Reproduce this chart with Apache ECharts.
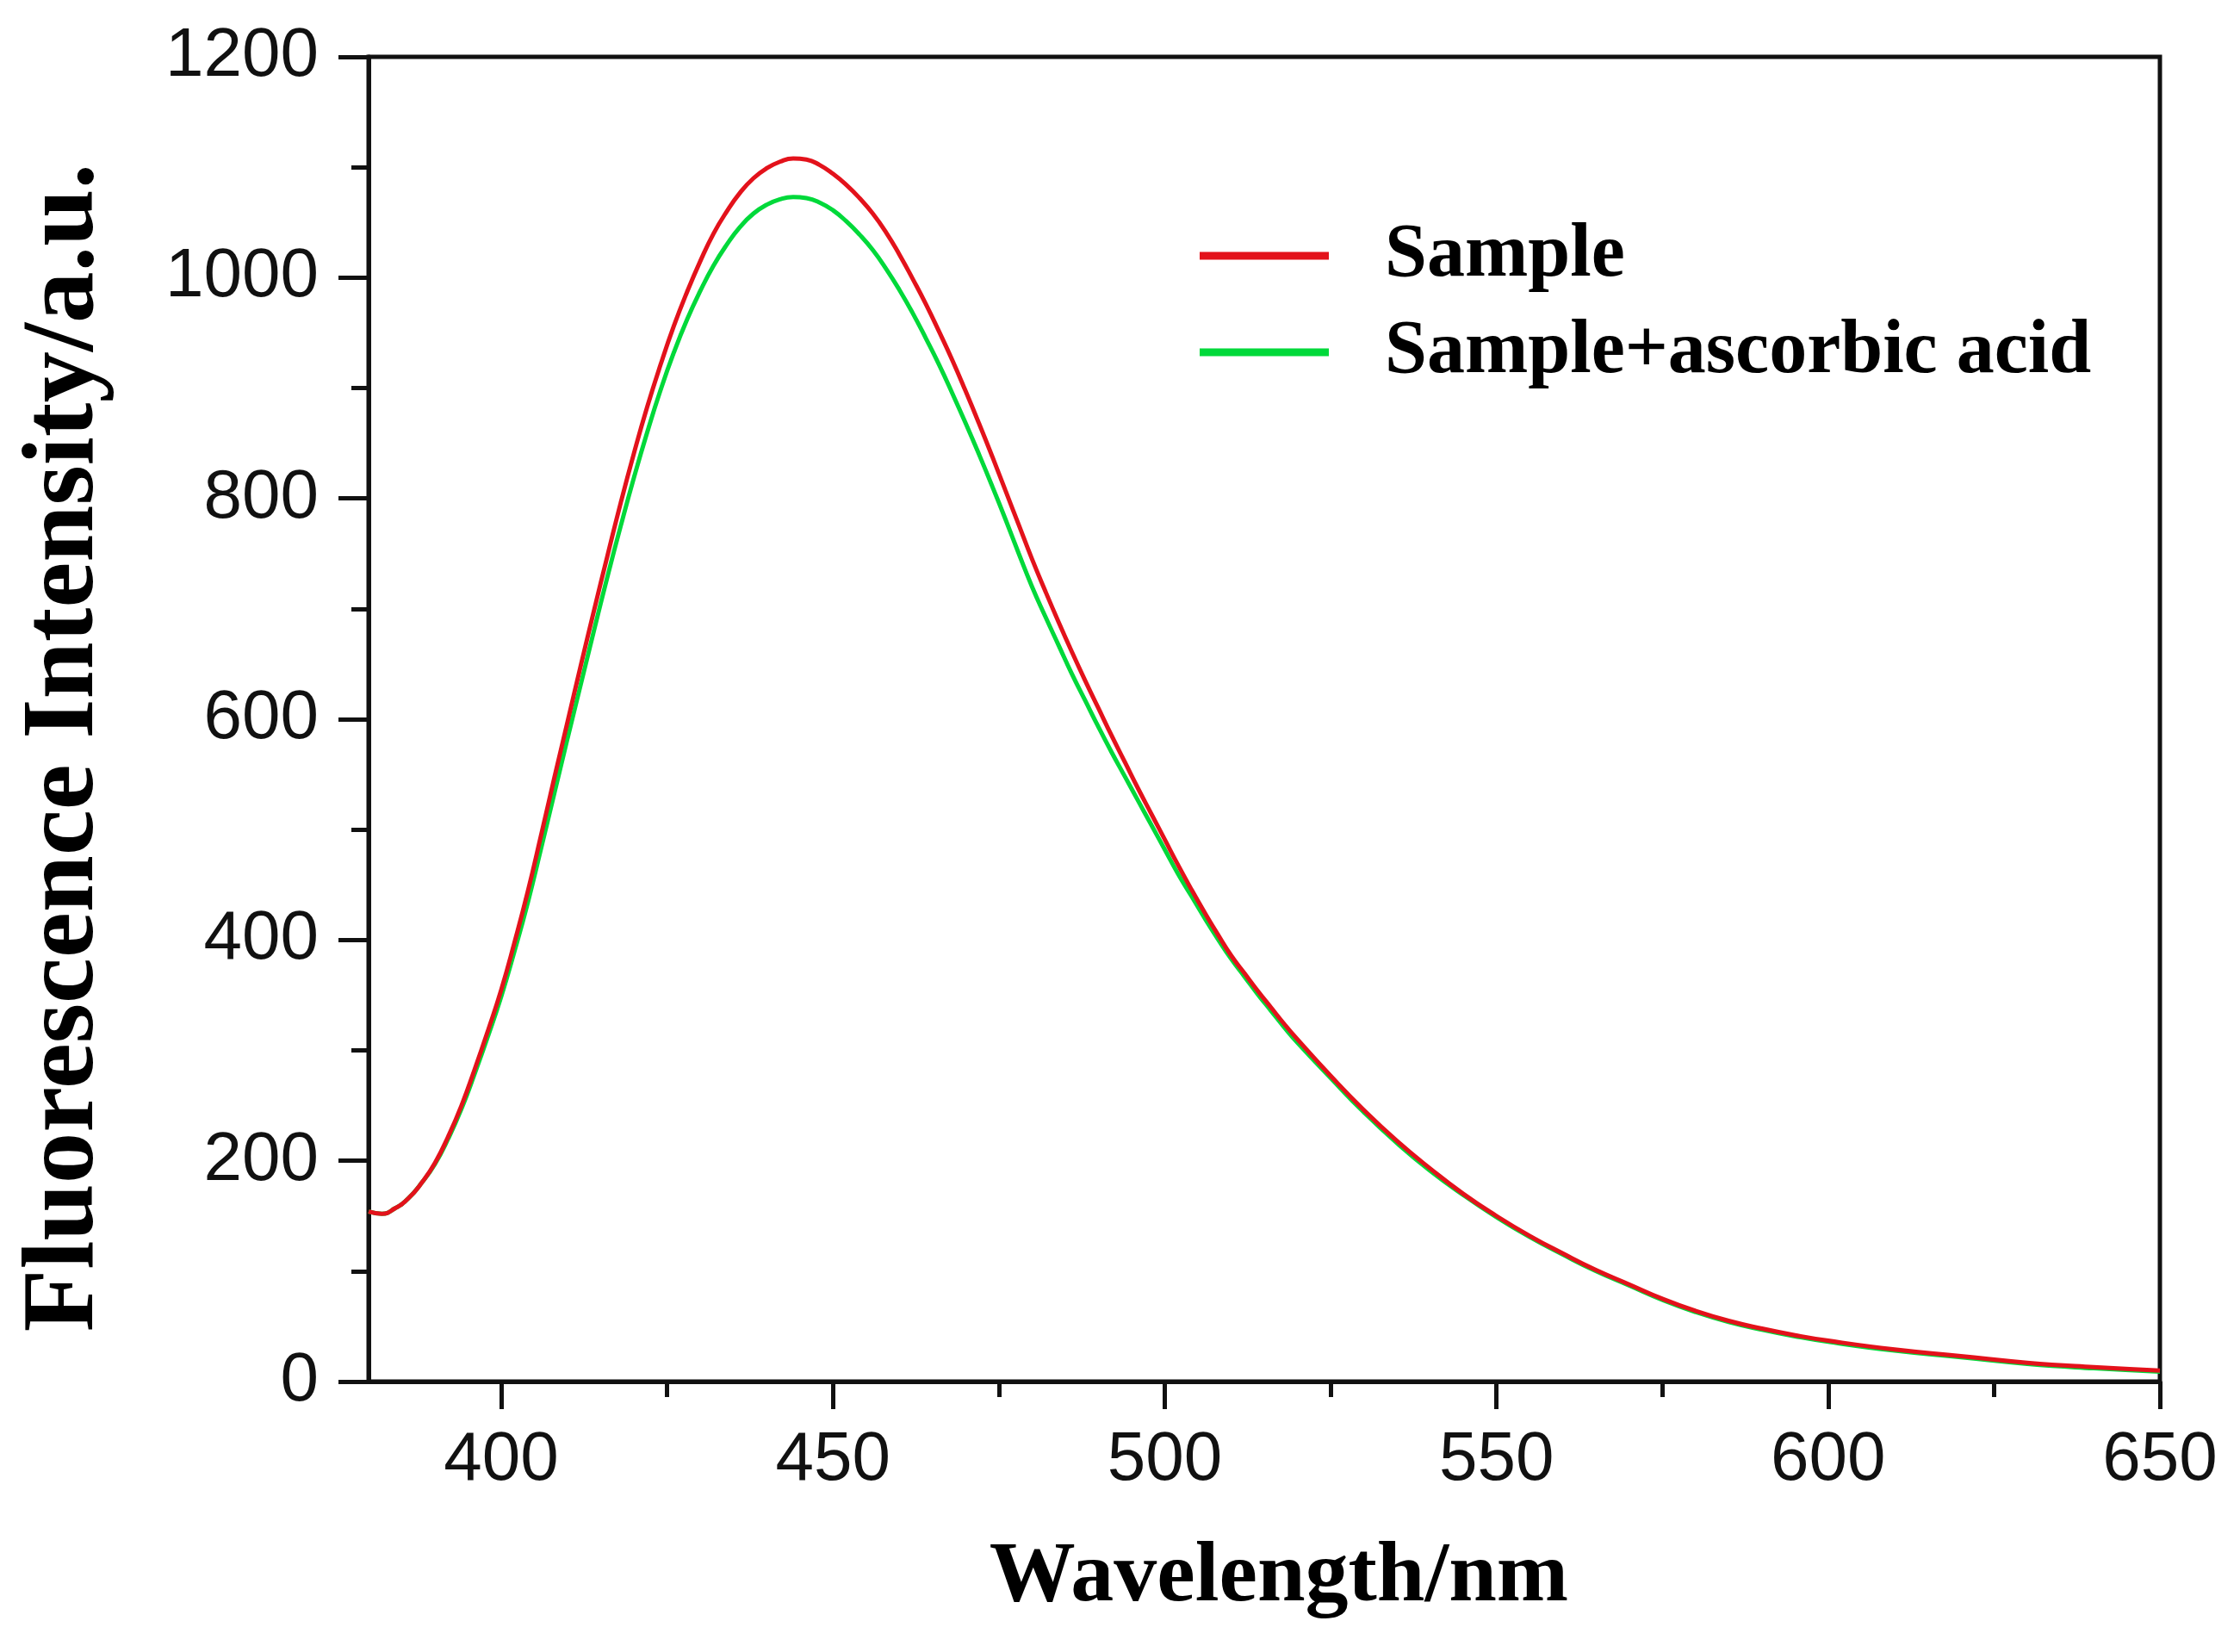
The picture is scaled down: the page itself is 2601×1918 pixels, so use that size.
<!DOCTYPE html>
<html>
<head>
<meta charset="utf-8">
<script src="https://cdn.jsdelivr.net/npm/echarts@6/dist/echarts.min.js"></script>
<style>
html, body { margin: 0; padding: 0; background: #fff; }
#chart { width: 2601px; height: 1918px; }
</style>
</head>
<body>
<div id="chart"></div>
<script>
// wavelength (nm)
var wavelength = [380, 382, 384, 386, 388, 390, 392, 394, 396, 398, 400, 402, 404, 406, 408, 410, 412, 414, 416, 418,
    420, 422, 424, 426, 428, 430, 432, 434, 436, 438, 440, 442, 444, 446, 448, 450, 452, 454, 456, 458,
    460, 462, 464, 466, 468, 470, 472, 474, 476, 478, 480, 482, 484, 486, 488, 490, 492, 494, 496, 498,
    500, 502, 504, 506, 508, 510, 512, 514, 516, 518, 520, 525, 530, 535, 540, 545, 550, 555, 560, 565,
    570, 575, 580, 585, 590, 595, 600, 610, 620, 630, 640, 650];

// Sample
var sampleVals = [154, 152, 157, 166, 180, 198, 222, 250, 283, 318, 355, 398, 444, 495, 547, 598, 649, 699, 748, 796,
    841, 883, 921, 956, 987, 1015, 1040, 1060, 1077, 1090, 1099, 1105, 1108, 1107, 1102, 1094, 1084, 1072, 1058, 1041,
    1021, 999, 976, 951, 925, 897, 868, 838, 807, 776, 745, 716, 688, 661, 635, 610, 585, 561, 537, 514,
    491, 468, 446, 425, 405, 386, 370, 354, 339, 324, 310, 277, 246, 218, 193, 170, 150, 132, 116, 101,
    88, 75, 64, 55, 48, 42, 37, 29, 23, 17, 13, 10];

// Sample+ascorbic acid
var ascorbicVals = [154, 152, 157, 166, 180, 197, 220, 247, 279, 313, 349, 390, 434, 483, 533, 583, 632, 681, 729, 775,
    819, 860, 898, 932, 962, 988, 1011, 1030, 1046, 1058, 1066, 1071, 1073, 1072, 1068, 1061, 1051, 1039, 1025, 1008,
    989, 968, 945, 921, 895, 868, 840, 811, 781, 750, 720, 693, 667, 641, 617, 593, 570, 548, 526, 504,
    482, 460, 440, 420, 401, 383, 367, 351, 336, 321, 307, 275, 244, 216, 191, 169, 149, 131, 115, 100,
    87, 74, 63, 54, 47, 41, 36, 28, 22, 16, 12, 9];

var xMajor = [400, 450, 500, 550, 600, 650];
var xMinor = [425, 475, 525, 575, 625];

function pairs(xs, ys) {
    var out = [];
    for (var i = 0; i < xs.length; i++) {
        out.push([xs[i], ys[i]]);
    }
    return out;
}

var chart = echarts.init(document.getElementById('chart'));

var serif = '"Liberation Serif", "Times New Roman", serif';
var sans = '"Liberation Sans", Arial, sans-serif';

var option = {
    backgroundColor: '#fff',
    animation: false,
    grid: {
        left: 428,
        right: 93,
        top: 66,
        bottom: 314,
        show: true,
        borderColor: '#111',
        borderWidth: 5
    },
    legend: {
        orient: 'vertical',
        left: 1388,
        top: 248,
        itemWidth: 150,
        itemHeight: 9,
        itemGap: 24,
        icon: 'rect',
        data: ['Sample', 'Sample+ascorbic acid'],
        textStyle: {
            fontFamily: serif,
            fontWeight: 'bold',
            fontSize: 88,
            lineHeight: 88,
            color: '#000',
            padding: [0, 0, 0, 60]
        }
    },
    xAxis: [{
        type: 'value',
        min: 380,
        max: 650,
        position: 'bottom',
        name: 'Wavelength/nm',
        nameLocation: 'middle',
        nameGap: 178,
        nameTextStyle: {
            fontFamily: serif,
            fontWeight: 'bold',
            fontSize: 100,
            color: '#000',
            padding: [0, 0, 0, 34]
        },
        axisLine: { show: true, onZero: false, lineStyle: { color: '#111', width: 5 } },
        axisTick: { show: true, customValues: xMajor, length: 32, lineStyle: { color: '#111', width: 5 } },
        axisLabel: {
            show: true,
            customValues: xMajor,
            margin: 52,
            fontFamily: sans,
            fontSize: 80,
            color: '#111'
        },
        splitLine: { show: false }
    }, {
        // minor ticks only
        type: 'value',
        min: 380,
        max: 650,
        position: 'bottom',
        axisLine: { show: false, onZero: false },
        axisTick: { show: true, customValues: xMinor, length: 18, lineStyle: { color: '#111', width: 5 } },
        axisLabel: { show: false },
        splitLine: { show: false }
    }],
    yAxis: {
        type: 'value',
        min: 0,
        max: 1200,
        interval: 200,
        name: 'Fluorescence Intensity/a.u.',
        nameLocation: 'middle',
        nameRotate: 90,
        nameGap: 292,
        nameTextStyle: {
            fontFamily: serif,
            fontWeight: 'bold',
            fontSize: 119,
            color: '#000',
            padding: [0, 66, 0, 0]
        },
        axisLine: { show: true, onZero: false, lineStyle: { color: '#111', width: 5 } },
        axisTick: { show: true, length: 35, lineStyle: { color: '#111', width: 5 } },
        minorTick: { show: true, splitNumber: 2, length: 20, lineStyle: { color: '#111', width: 5 } },
        axisLabel: {
            margin: 58,
            fontFamily: sans,
            fontSize: 80,
            color: '#111',
            formatter: function (v) { return String(v); }
        },
        splitLine: { show: false }
    },
    series: [{
        name: 'Sample+ascorbic acid',
        type: 'line',
        xAxisIndex: 0,
        data: pairs(wavelength, ascorbicVals),
        showSymbol: false,
        smooth: 0.5,
        color: '#00d93a',
        lineStyle: { color: '#00d93a', width: 5 },
        z: 2
    }, {
        name: 'Sample',
        type: 'line',
        xAxisIndex: 0,
        data: pairs(wavelength, sampleVals),
        showSymbol: false,
        smooth: 0.5,
        color: '#e3121b',
        lineStyle: { color: '#e3121b', width: 5 },
        z: 3
    }]
};

chart.setOption(option);
</script>
</body>
</html>
